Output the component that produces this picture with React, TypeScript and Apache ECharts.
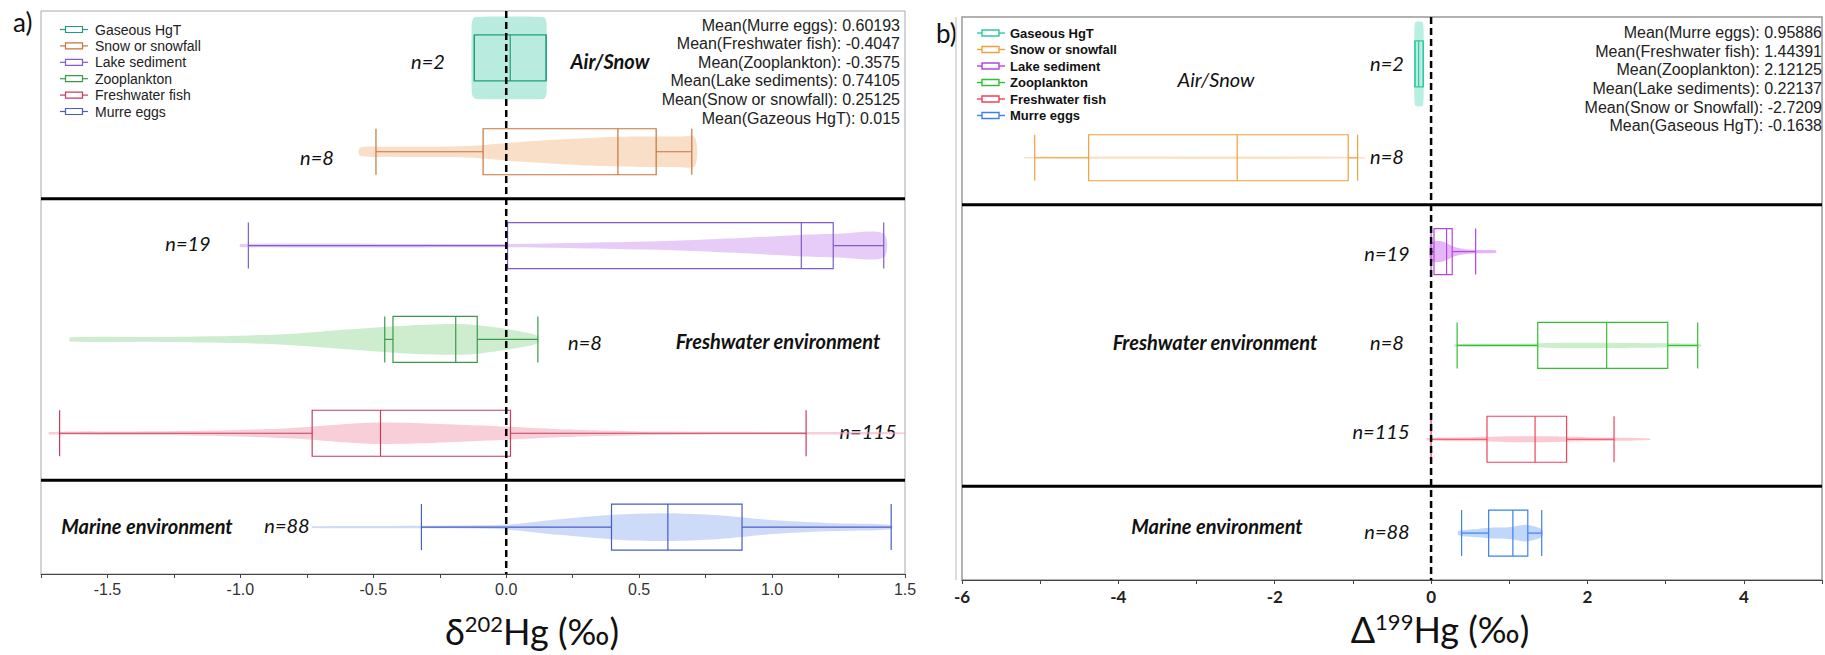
import React, { useEffect, useRef } from 'react';
import * as echarts from 'echarts';

// ---------- DATA ----------
const categories = ['Gaseous HgT', 'Snow or snowfall', 'Lake sediment', 'Zooplankton', 'Freshwater fish', 'Murre eggs'];

// [min, Q1, median, Q3, max]  (δ202Hg, ‰)
const leftBoxes = [
  [-0.12, -0.12, 0.015, 0.15, 0.15],
  [-0.49, -0.087, 0.42, 0.564, 0.698],
  [-0.97, 0.005, 1.11, 1.23, 1.42],
  [-0.457, -0.426, -0.19, -0.109, 0.119],
  [-1.68, -0.73, -0.473, 0.016, 1.128],
  [-0.319, 0.396, 0.608, 0.887, 1.448],
];
// [min, Q1, median, Q3, max]  (Δ199Hg, ‰)
const rightBoxes = [
  [-0.206, -0.206, -0.16, -0.1, -0.1],
  [-5.07, -4.38, -2.48, -1.06, -0.94],
  [0.0, 0.037, 0.198, 0.27, 0.57],
  [0.333, 1.364, 2.246, 3.027, 3.41],
  [0.0, 0.715, 1.33, 1.733, 2.34],
  [0.39, 0.736, 1.046, 1.237, 1.415],
];

// violin density profiles: [value, relative density]
const leftViolins = [
  [[-0.13, 0.82], [-0.125, 0.95], [-0.115, 1], [0.14, 1], [0.148, 0.95], [0.152, 0.82]],
  [[-0.55, 0.1], [-0.45, 0.12], [-0.2, 0.13], [-0.1, 0.16], [0.05, 0.24], [0.2, 0.3], [0.35, 0.35], [0.5, 0.37], [0.65, 0.37], [0.71, 0.35]],
  [[-1.0, 0.04], [0, 0.04], [0.3, 0.07], [0.6, 0.11], [0.9, 0.19], [1.1, 0.26], [1.25, 0.29], [1.42, 0.29]],
  [[-1.64, 0.05], [-1.3, 0.06], [-1.0, 0.09], [-0.8, 0.14], [-0.6, 0.24], [-0.45, 0.31], [-0.3, 0.36], [-0.15, 0.37], [-0.05, 0.3], [0.05, 0.2], [0.12, 0.08]],
  [[-1.72, 0.03], [-1.3, 0.05], [-1.0, 0.08], [-0.8, 0.13], [-0.65, 0.2], [-0.5, 0.26], [-0.35, 0.25], [-0.15, 0.2], [0, 0.16], [0.2, 0.1], [0.35, 0.07], [0.6, 0.04], [1.16, 0.03], [1.5, 0.02]],
  [[-0.73, 0.02], [-0.3, 0.03], [0, 0.06], [0.2, 0.19], [0.4, 0.3], [0.6, 0.34], [0.8, 0.29], [1.0, 0.17], [1.2, 0.1], [1.45, 0.05]],
];
const rightViolins = [
  [[-0.215, 0.75], [-0.21, 0.93], [-0.2, 1], [-0.11, 1], [-0.1, 0.93], [-0.095, 0.75]],
  [[-5.2, 0.02], [-0.85, 0.02]],
  [[-0.02, 0.15], [0.03, 0.24], [0.12, 0.25], [0.2, 0.2], [0.3, 0.11], [0.4, 0.07], [0.6, 0.04], [0.83, 0.03]],
  [[0.3, 0.03], [1.0, 0.04], [1.6, 0.06], [2.4, 0.06], [3.0, 0.05], [3.45, 0.03]],
  [[-0.05, 0.03], [0.5, 0.05], [1.0, 0.07], [1.5, 0.07], [2.0, 0.05], [2.8, 0.02]],
  [[0.35, 0.05], [0.6, 0.1], [0.8, 0.13], [1.0, 0.14], [1.2, 0.2], [1.3, 0.17], [1.42, 0.08]],
];

const leftN = [2, 8, 19, 8, 115, 88];
const rightN = [2, 8, 19, 8, 115, 88];

const leftMeanNames = ['Murre eggs', 'Freshwater fish', 'Zooplankton', 'Lake sediments', 'Snow or snowfall', 'Gazeous HgT'];
const leftMeanValues = ['0.60193', '-0.4047', '-0.3575', '0.74105', '0.25125', '0.015'];
const rightMeanNames = ['Murre eggs', 'Freshwater fish', 'Zooplankton', 'Lake sediments', 'Snow or Snowfall', 'Gaseous HgT'];
const rightMeanValues = ['0.95886', '1.44391', '2.12125', '0.22137', '-2.7209', '-0.1638'];

const sectionNames = ['Air/Snow', 'Freshwater environment', 'Marine environment'];
const sectionBounds = [2, 5]; // row boundaries between sections

const leftAxis = { min: -1.75, max: 1.5, interval: 0.25 };
const rightAxis = { min: -6, max: 5, interval: 1 };

// ---------- STYLE ----------
const leftStroke = ['#1e9e7e', '#c9733e', '#7d5ccc', '#3b9a4c', '#c73d5d', '#4a5cc9'];
const leftFill = ['#7fdcc2', '#f4c39a', '#d6a2f2', '#a6dca6', '#f3a6b8', '#a4bcf2'];
const rightStroke = ['#2ec9a2', '#f2a03c', '#b444e2', '#33c033', '#f0425a', '#3d80f0'];
const rightFill = ['#7fe0c8', '#f8c890', '#d07cf2', '#a0e0a0', '#f8a0b0', '#8cb4f8'];

const LEFT_GRID = { left: 41, top: 11, width: 864, height: 563 };
const RIGHT_GRID = { left: 962, top: 17, width: 863, height: 563 };

const leftNPos = [[428, 61], [317, 157], [188, 243], [585, 342], [868, 431], [287, 525]];
const rightNPos = [[1387, 63], [1387, 156], [1387, 253], [1387, 342], [1381, 431], [1387, 531]];
const leftSectionPos = [[610, 61], [778, 341], [147, 526]];
const rightSectionPos = [[1216, 79], [1215, 342], [1217, 526]];

function makeBoxRender(boxes: number[][], violins: number[][][], strokes: string[], fills: string[], vScale: number) {
  return (params: any, api: any) => {
    const i = params.dataIndex;
    const yc = i + 0.5;
    const b = boxes[i];
    const children: any[] = [];
    const top: number[][] = [];
    const bot: number[][] = [];
    for (const [val, d] of violins[i]) {
      const p = api.coord([val, yc]);
      top.push([p[0], p[1] - d * vScale]);
      bot.unshift([p[0], p[1] + d * vScale]);
    }
    children.push({
      type: 'polygon',
      shape: { points: top.concat(bot), smooth: 0.3 },
      style: { fill: fills[i], opacity: 0.55 },
    });
    const pts = b.map((v) => api.coord([v, yc]));
    const y = pts[0][1];
    const h = 23;
    const stroke = strokes[i];
    const ls = { stroke, lineWidth: 1.2, fill: 'none' };
    children.push({ type: 'line', shape: { x1: pts[0][0], y1: y, x2: pts[1][0], y2: y }, style: ls });
    children.push({ type: 'line', shape: { x1: pts[3][0], y1: y, x2: pts[4][0], y2: y }, style: ls });
    children.push({ type: 'line', shape: { x1: pts[0][0], y1: y - h, x2: pts[0][0], y2: y + h }, style: ls });
    children.push({ type: 'line', shape: { x1: pts[4][0], y1: y - h, x2: pts[4][0], y2: y + h }, style: ls });
    children.push({
      type: 'rect',
      shape: { x: pts[1][0], y: y - h, width: pts[3][0] - pts[1][0], height: 2 * h },
      style: { stroke, lineWidth: 1.2, fill: 'rgba(0,0,0,0)' },
    });
    children.push({ type: 'line', shape: { x1: pts[2][0], y1: y - h, x2: pts[2][0], y2: y + h }, style: ls });
    return { type: 'group', children };
  };
}

function makeRefRender() {
  return (params: any, api: any) => {
    const cs = params.coordSys;
    const children: any[] = [];
    for (const r of sectionBounds) {
      const p = api.coord([0, r]);
      children.push({
        type: 'line',
        shape: { x1: cs.x, y1: p[1], x2: cs.x + cs.width, y2: p[1] },
        style: { stroke: '#000', lineWidth: 3 },
      });
    }
    const z = api.coord([0, 0]);
    children.push({
      type: 'line',
      shape: { x1: z[0], y1: cs.y, x2: z[0], y2: cs.y + cs.height },
      style: { stroke: '#000', lineWidth: 2.5, lineDash: [7, 4] },
    });
    return { type: 'group', children };
  };
}

const legendFont = 'Liberation Sans, Arial, sans-serif';
const calFont = 'Lato, "Noto Sans", sans-serif';

function buildGraphics() {
  const g: any[] = [];
  // legends
  categories.forEach((c, i) => {
    const y = 29.5 + i * 16.4;
    g.push({ type: 'line', shape: { x1: 60, y1: y, x2: 88, y2: y }, style: { stroke: leftStroke[i], lineWidth: 1.2 } });
    g.push({ type: 'rect', shape: { x: 65.5, y: y - 3, width: 17, height: 6 }, style: { stroke: leftStroke[i], lineWidth: 1.2, fill: '#fff' } });
    g.push({ type: 'text', x: 95, y, style: { text: c, font: `14px ${legendFont}`, fill: '#222', textVerticalAlign: 'middle' } });
    const y2 = 33 + i * 16.5;
    g.push({ type: 'line', shape: { x1: 977, y1: y2, x2: 1005, y2: y2 }, style: { stroke: rightStroke[i], lineWidth: 1.4 } });
    g.push({ type: 'rect', shape: { x: 982, y: y2 - 3, width: 17, height: 6 }, style: { stroke: rightStroke[i], lineWidth: 1.4, fill: '#fff' } });
    g.push({ type: 'text', x: 1010, y: y2, style: { text: c, font: `bold 13px ${legendFont}`, fill: '#111', textVerticalAlign: 'middle' } });
  });
  // means
  leftMeanNames.forEach((n, i) => {
    g.push({ type: 'text', x: 900, y: 25 + i * 18.65, style: { text: `Mean(${n}): ${leftMeanValues[i]}`, font: `16px ${legendFont}`, fill: '#222', textAlign: 'right', textVerticalAlign: 'middle' } });
  });
  rightMeanNames.forEach((n, i) => {
    g.push({ type: 'text', x: 1822, y: 32.3 + i * 18.7, style: { text: `Mean(${n}): ${rightMeanValues[i]}`, font: `16px ${legendFont}`, fill: '#222', textAlign: 'right', textVerticalAlign: 'middle' } });
  });
  // n labels
  leftN.forEach((n, i) => {
    g.push({ type: 'text', x: leftNPos[i][0], y: leftNPos[i][1], style: { text: `n=${n}`, font: `italic 20px ${calFont}`, fill: '#111', textAlign: 'center', textVerticalAlign: 'middle' } });
  });
  rightN.forEach((n, i) => {
    g.push({ type: 'text', x: rightNPos[i][0], y: rightNPos[i][1], style: { text: `n=${n}`, font: `italic 20px ${calFont}`, fill: '#111', textAlign: 'center', textVerticalAlign: 'middle' } });
  });
  sectionNames.forEach((s, i) => {
    g.push({ type: 'text', x: leftSectionPos[i][0], y: leftSectionPos[i][1], style: { text: s, font: `italic bold 20px ${calFont}`, fill: '#111', textAlign: 'center', textVerticalAlign: 'middle' } });
    g.push({ type: 'text', x: rightSectionPos[i][0], y: rightSectionPos[i][1], style: { text: s, font: `italic ${i === 0 ? 'normal' : 'bold'} 20px ${calFont}`, fill: '#111', textAlign: 'center', textVerticalAlign: 'middle' } });
  });
  // panel letters
  g.push({ type: 'text', x: 13, y: 22, style: { text: 'a)', font: `26px ${calFont}`, fill: '#111', textVerticalAlign: 'middle' } });
  g.push({ type: 'text', x: 936, y: 33, style: { text: 'b)', font: `26px ${calFont}`, fill: '#111', textVerticalAlign: 'middle' } });
  // axis titles
  const rich = {
    a: { fontFamily: 'Lato, sans-serif', fontSize: 36, fill: '#111', color: '#111' },
    s: { fontFamily: 'Lato, sans-serif', fontSize: 22, fill: '#111', color: '#111', padding: [0, 0, 15, 0] },
  };
  g.push({ type: 'text', x: 532, y: 631, style: { text: '{a|δ}{s|202}{a|Hg (‰)}', rich, textAlign: 'center', textVerticalAlign: 'middle' } });
  g.push({ type: 'text', x: 1440, y: 629, style: { text: '{a|Δ}{s|199}{a|Hg (‰)}', rich, textAlign: 'center', textVerticalAlign: 'middle' } });
  // outer frame line of right panel
  g.push({ type: 'line', shape: { x1: 956, y1: 17, x2: 956, y2: 580 }, style: { stroke: '#bbb', lineWidth: 1 } });
  return g;
}

export default function App() {
  const ref = useRef<HTMLDivElement>(null);
  useEffect(() => {
    if (!ref.current) return;
    const chart = echarts.init(ref.current, null, { renderer: 'svg' });
    const rowData = categories.map((_, i) => [0, i + 0.5]);
    const yAxisBase = { type: 'value', min: 0, max: 6, inverse: true, show: false };
    const option: any = {
      animation: false,
      backgroundColor: '#fff',
      grid: [
        { ...LEFT_GRID, show: true, borderColor: '#a8a8a8', borderWidth: 1 },
        { ...RIGHT_GRID, show: true, borderColor: '#999', borderWidth: 1.5 },
      ],
      xAxis: [
        {
          type: 'value', gridIndex: 0, ...leftAxis,
          splitLine: { show: false },
          axisLine: { show: true, onZero: false, lineStyle: { color: '#444', width: 1 } },
          axisTick: { show: true, length: 4, lineStyle: { color: '#444' } },
          axisLabel: {
            margin: 7, fontSize: 16, color: '#333', fontFamily: legendFont,
            formatter: (v: number) => (Math.abs(v * 2 - Math.round(v * 2)) < 1e-6 ? v.toFixed(1) : ''),
          },
        },
        {
          type: 'value', gridIndex: 1, ...rightAxis,
          splitLine: { show: false },
          axisLine: { show: true, onZero: false, lineStyle: { color: '#444', width: 1 } },
          axisTick: { show: true, length: 4, lineStyle: { color: '#444' } },
          axisLabel: {
            margin: 8, fontSize: 17, fontWeight: 'bold', color: '#222', fontFamily: calFont,
            formatter: (v: number) => (Math.round(v) % 2 === 0 ? String(v) : ''),
          },
        },
      ],
      yAxis: [
        { ...yAxisBase, gridIndex: 0 },
        { ...yAxisBase, gridIndex: 1 },
      ],
      series: [
        { type: 'custom', xAxisIndex: 0, yAxisIndex: 0, data: rowData, renderItem: makeBoxRender(leftBoxes, leftViolins, leftStroke, leftFill, 41), z: 3 },
        { type: 'custom', xAxisIndex: 1, yAxisIndex: 1, data: rowData, renderItem: makeBoxRender(rightBoxes, rightViolins, rightStroke, rightFill, 42), z: 3 },
        { type: 'custom', xAxisIndex: 0, yAxisIndex: 0, data: [[0, 0]], renderItem: makeRefRender(), z: 4 },
        { type: 'custom', xAxisIndex: 1, yAxisIndex: 1, data: [[0, 0]], renderItem: makeRefRender(), z: 4 },
      ],
      graphic: buildGraphics(),
    };
    chart.setOption(option);
    return () => chart.dispose();
  }, []);
  return <div ref={ref} style={{ position: 'absolute', left: 0, top: 0, width: 1825, height: 655 }} />;
}
